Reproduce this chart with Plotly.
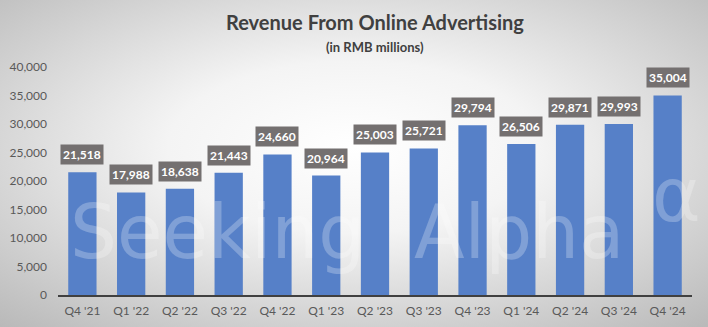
import plotly.graph_objects as go
import base64

quarters = ["Q4 '21", "Q1 '22", "Q2 '22", "Q3 '22", "Q4 '22", "Q1 '23", "Q2 '23",
            "Q3 '23", "Q4 '23", "Q1 '24", "Q2 '24", "Q3 '24", "Q4 '24"]
revenue = [21518, 17988, 18638, 21443, 24660, 20964, 25003,
           25721, 29794, 26506, 29871, 29993, 35004]
y_ticks = [0, 5000, 10000, 15000, 20000, 25000, 30000, 35000, 40000]

W, H = 708, 327
ML, MR, MT, MB = 58, 16, 67, 32
PW, PH = W - ML - MR, H - MT - MB

svg = ('<svg xmlns="http://www.w3.org/2000/svg" width="708" height="327">'
       '<defs><radialGradient id="g" cx="50%" cy="45%" r="75%">'
       '<stop offset="0%" stop-color="#ffffff"/><stop offset="35%" stop-color="#f4f4f4"/>'
       '<stop offset="100%" stop-color="#b8b8b8"/></radialGradient></defs>'
       '<rect width="708" height="327" fill="url(#g)"/></svg>')
uri = "data:image/svg+xml;base64," + base64.b64encode(svg.encode()).decode()

fig = go.Figure(go.Bar(
    x=quarters, y=revenue, marker=dict(color="#5680c8", line=dict(width=0)),
    width=0.58, hoverinfo="skip"))

wm_font = dict(family="DejaVu Sans ExtraLight, DejaVu Sans", size=74,
               color="rgba(255,255,255,0.25)")
fig.add_annotation(xref="paper", yref="paper", x=0.252, y=0.08, yanchor="bottom",
                   xanchor="center", text="Seeking", showarrow=False, font=wm_font)
fig.add_annotation(xref="paper", yref="paper", x=0.727, y=0.08, yanchor="bottom",
                   xanchor="center", text="Alpha", showarrow=False, font=wm_font)
fig.add_annotation(xref="paper", yref="paper", x=0.975, y=0.44, xanchor="center",
                   yanchor="middle", text="α", showarrow=False, font=wm_font)

for q, v in zip(quarters, revenue):
    fig.add_annotation(x=q, y=v, text=f"<b>{v:,}</b>", showarrow=False,
                       yanchor="bottom", yshift=7, bgcolor="#747070",
                       font=dict(family="Lato", size=12, color="white"),
                       borderpad=2)

fig.add_annotation(xref="paper", yref="paper", x=0.5, y=(H - 22 - MB) / PH,
                   text="<b>Revenue From Online Advertising</b>", showarrow=False,
                   yanchor="middle", font=dict(family="Lato", size=20, color="#404040"))
fig.add_annotation(xref="paper", yref="paper", x=0.5, y=(H - 47 - MB) / PH,
                   text="<b>(in RMB millions)</b>", showarrow=False,
                   yanchor="middle", font=dict(family="Lato", size=13, color="#404040"))

fig.update_layout(
    width=W, height=H, margin=dict(l=ML, r=MR, t=MT, b=MB),
    paper_bgcolor="#d8d8d8", plot_bgcolor="rgba(0,0,0,0)",
    showlegend=False, bargap=0.42,
    images=[dict(source=uri, xref="paper", yref="paper", x=-ML / PW, y=1 + MT / PH,
                 sizex=W / PW, sizey=H / PH, sizing="stretch", layer="below",
                 xanchor="left", yanchor="top")],
    xaxis=dict(showgrid=False, showline=True, linecolor="#404040", linewidth=2,
               ticks="", ticklabelstandoff=4, automargin=False,
               tickfont=dict(family="Lato", size=12, color="#595959"),
               fixedrange=True),
    yaxis=dict(range=[0, 40000], tickvals=y_ticks, tickformat=",", showgrid=False,
               zeroline=False, showline=False, ticks="", ticklabelstandoff=10,
               automargin=False,
               tickfont=dict(family="Lato", size=12, color="#595959"),
               fixedrange=True),
)

fig.write_html("out.html", config={"displayModeBar": False})
